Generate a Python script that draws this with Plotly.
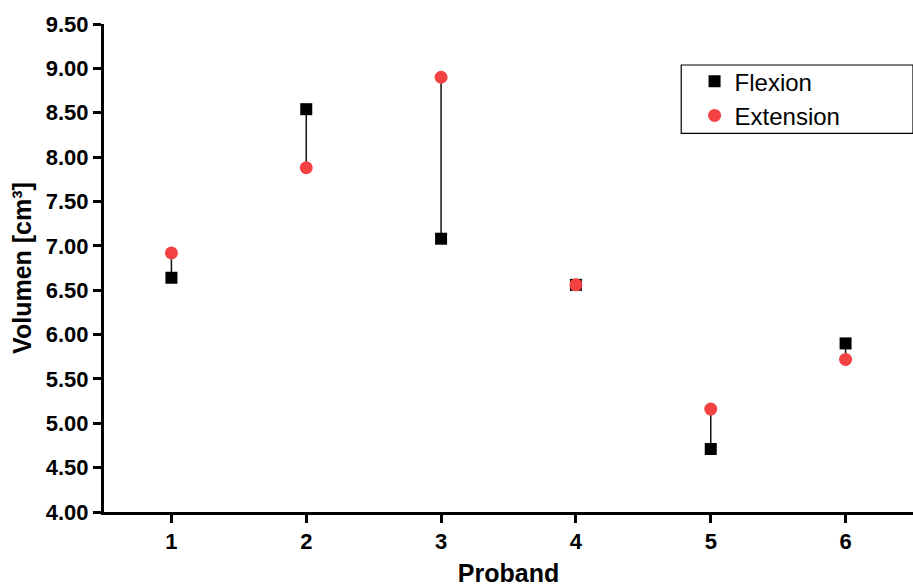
import plotly.graph_objects as go

proband = [1, 2, 3, 4, 5, 6]
flexion = [6.64, 8.54, 7.08, 6.56, 4.71, 5.90]
extension = [6.92, 7.88, 8.90, 6.56, 5.16, 5.72]
y_ticks = [4.0, 4.5, 5.0, 5.5, 6.0, 6.5, 7.0, 7.5, 8.0, 8.5, 9.0, 9.5]

FONT = "Arial, 'Liberation Sans', sans-serif"

# connecting segments between paired values
lx, ly = [], []
for p, f, e in zip(proband, flexion, extension):
    lx += [p, p, None]
    ly += [f, e, None]

fig = go.Figure()
fig.add_trace(go.Scatter(x=lx, y=ly, mode="lines", line=dict(color="#111111", width=1.5),
                         showlegend=False, hoverinfo="skip"))
fig.add_trace(go.Scatter(x=proband, y=flexion, mode="markers", name="Flexion",
                         marker=dict(symbol="square", size=12, color="black")))
fig.add_trace(go.Scatter(x=proband, y=extension, mode="markers", name="Extension",
                         marker=dict(symbol="circle", size=13, color="#f44242")))

fig.update_layout(
    width=913, height=588,
    margin=dict(l=104, r=0, t=24, b=76),
    plot_bgcolor="white", paper_bgcolor="white",
    font=dict(family=FONT, color="black"),
    showlegend=True,
    legend=dict(x=0.73, y=0.928, xanchor="left", yanchor="top",
                font=dict(family=FONT, size=24, color="black"),
                bgcolor="rgba(0,0,0,0)", borderwidth=0,
                tracegroupgap=0),
    shapes=[dict(type="rect", xref="paper", yref="paper",
                 x0=0.7135, x1=1.0, y0=0.776, y1=0.916,
                 line=dict(color="black", width=1.2), fillcolor="rgba(0,0,0,0)")],
)
fig.update_xaxes(range=[0.5, 6.5], tickvals=proband, ticktext=[str(p) for p in proband],
                 showline=True, linewidth=3, linecolor="black",
                 ticks="outside", ticklen=8, tickwidth=3, tickcolor="black",
                 showgrid=False, zeroline=False,
                 tickfont=dict(family=FONT, size=22, weight="bold"),
                 title=dict(text="Proband", font=dict(family=FONT, size=25, weight="bold"), standoff=12))
fig.update_yaxes(range=[4.0, 9.5], tickvals=y_ticks, tickformat=".2f",
                 showline=True, linewidth=3, linecolor="black",
                 ticks="outside", ticklen=8, tickwidth=3, tickcolor="black",
                 showgrid=False, zeroline=False,
                 tickfont=dict(family=FONT, size=22, weight="bold"),
                 title=dict(text="Volumen [cm³]", font=dict(family=FONT, size=25, weight="bold"), standoff=8))

fig.write_html("out.html", config={"displayModeBar": False},
               post_script="document.body.style.margin='0';document.body.style.overflow='hidden';")
